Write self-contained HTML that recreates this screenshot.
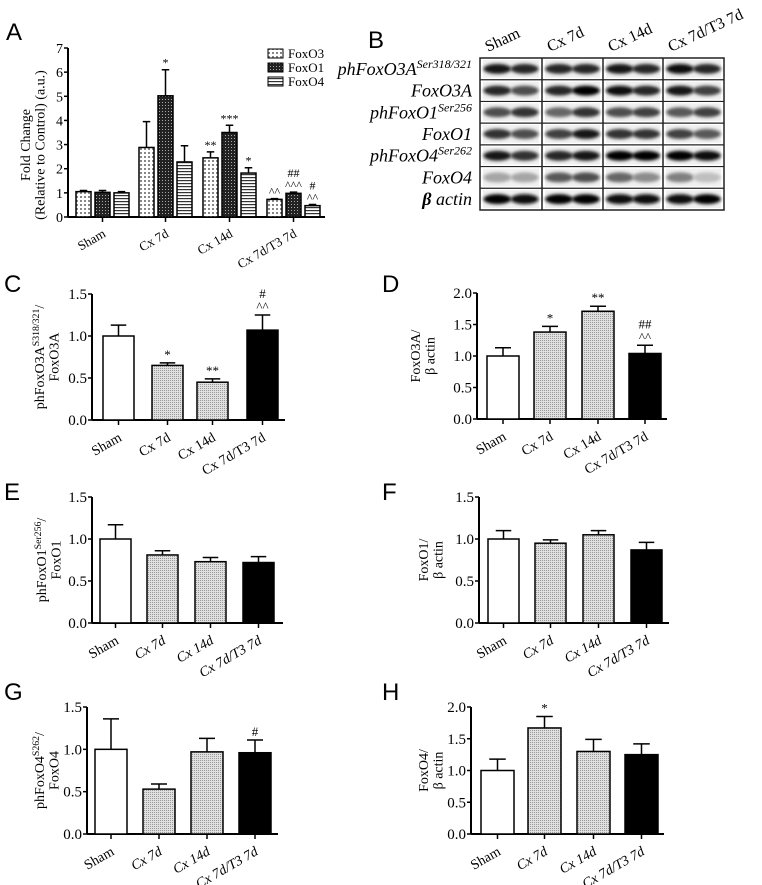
<!DOCTYPE html>
<html><head><meta charset="utf-8">
<style>
body{margin:0;background:#fff;}
svg{display:block;font-family:"Liberation Serif",serif;}
.pl{font-family:"Liberation Sans",sans-serif;font-size:24px;}
</style></head>
<body>
<svg id="fig" width="762" height="885" viewBox="0 0 762 885" xmlns="http://www.w3.org/2000/svg">
<defs>
<pattern id="pDot" width="4" height="4" patternUnits="userSpaceOnUse"><rect width="4" height="4" fill="#fff"/><rect x="0" y="0" width="2" height="2" fill="#888"/></pattern>
<pattern id="pDark" width="3" height="3" patternUnits="userSpaceOnUse"><rect width="3" height="3" fill="#222"/><rect x="0" y="0" width="1" height="1" fill="#aaa"/></pattern>
<pattern id="pStripe" width="4" height="3" patternUnits="userSpaceOnUse"><rect width="4" height="3" fill="#fff"/><rect y="0" width="4" height="1.2" fill="#333"/></pattern>
<pattern id="pGray" width="2" height="2" patternUnits="userSpaceOnUse"><rect width="2" height="2" fill="#e0e0e0"/><rect width="1" height="1" fill="#999"/></pattern>
<filter id="blur" x="-20%" y="-50%" width="140%" height="200%"><feGaussianBlur stdDeviation="1.6"/></filter>
</defs>
<g id="root"></g>
</svg>
<script>
// ---------- Panel A data ----------
const aCategories = ["Sham","Cx 7d","Cx 14d","Cx 7d/T3 7d"];
const aSeriesNames = ["FoxO3","FoxO1","FoxO4"];
const aFoxO3 = [1.05, 2.88, 2.45, 0.73];
const aFoxO3Err = [0.05, 1.07, 0.25, 0.03];
const aFoxO1 = [1.02, 5.02, 3.5, 0.98];
const aFoxO1Err = [0.08, 1.08, 0.3, 0.05];
const aFoxO4 = [1.0, 2.28, 1.82, 0.47];
const aFoxO4Err = [0.05, 0.67, 0.22, 0.05];
const aTicks = [0,1,2,3,4,5,6,7];
const aSigFoxO3 = ["","","**","^^"];
const aSigFoxO1 = ["","*","***","##\n^^^"];
const aSigFoxO4 = ["","","*","#\n^^"];
// ---------- Panels C-H data ----------
const groups = ["Sham","Cx 7d","Cx 14d","Cx 7d/T3 7d"];
const cVals = [1.0, 0.65, 0.45, 1.07];
const cErr = [0.13, 0.03, 0.04, 0.18];
const cSig = ["","*","**","#\n^^"];
const dVals = [1.0, 1.38, 1.71, 1.04];
const dErr = [0.13, 0.09, 0.08, 0.13];
const dSig = ["","*","**","##\n^^"];
const eVals = [1.0, 0.81, 0.73, 0.72];
const eErr = [0.17, 0.05, 0.05, 0.07];
const fVals = [1.0, 0.95, 1.05, 0.87];
const fErr = [0.10, 0.04, 0.05, 0.09];
const gVals = [1.0, 0.53, 0.97, 0.96];
const gErr = [0.36, 0.06, 0.16, 0.15];
const gSig = ["","","","#"];
const hVals = [1.0, 1.67, 1.30, 1.25];
const hErr = [0.18, 0.18, 0.19, 0.17];
const hSig = ["","*","",""];
const ticks15 = [0.0,0.5,1.0,1.5];
const ticks20 = [0.0,0.5,1.0,1.5,2.0];
// ---------- Blot data ----------
const blotLanes = ["Sham","Cx 7d","Cx 14d","Cx 7d/T3 7d"];
const blotRows = ["phFoxO3A|Ser318/321","FoxO3A|","phFoxO1|Ser256","FoxO1|","phFoxO4|Ser262","FoxO4|","β actin|"];
const blotIntensity = [
 [0.9,0.85,0.85,0.85,0.9,0.85,0.95,0.85],
 [0.85,0.7,0.85,0.98,0.95,0.85,0.9,0.75],
 [0.7,0.8,0.6,0.8,0.7,0.75,0.65,0.75],
 [0.8,0.7,0.75,0.9,0.8,0.8,0.75,0.65],
 [0.9,0.8,0.85,0.9,0.98,0.98,0.98,0.95],
 [0.35,0.35,0.65,0.7,0.6,0.45,0.5,0.25],
 [0.98,0.95,0.98,0.98,0.95,0.95,0.95,0.98]];

const NS="http://www.w3.org/2000/svg";
const root=document.getElementById('root');
function el(tag,attrs,parent){const e=document.createElementNS(NS,tag);for(const k in attrs)e.setAttribute(k,attrs[k]);(parent||root).appendChild(e);return e;}
function txt(x,y,s,size,anchor,parent,extra){const t=el('text',Object.assign({x:x,y:y,'font-size':size,'text-anchor':anchor||'start'},extra||{}),parent);t.textContent=s;return t;}
function multiText(x,yBottom,s,size,g){const lines=s.split("\n");for(let i=lines.length-1,k=0;i>=0;i--,k++){const t=txt(x,yBottom-k*size*1.0,lines[i],size,'middle',g);}}

function axes(g,cfg){
  const yS=v=>cfg.y0-(v/cfg.max)*(cfg.y0-cfg.yTop);
  el('line',{x1:cfg.x0,y1:cfg.yTop,x2:cfg.x0,y2:cfg.y0+0.5,stroke:'#000','stroke-width':2},g);
  el('line',{x1:cfg.x0,y1:cfg.y0,x2:cfg.xEnd,y2:cfg.y0,stroke:'#000','stroke-width':2},g);
  cfg.ticks.forEach(v=>{
    el('line',{x1:cfg.x0-4,y1:yS(v),x2:cfg.x0,y2:yS(v),stroke:'#000','stroke-width':1.5},g);
    const t=txt(cfg.x0-5,yS(v)+5,cfg.fmt(v),cfg.tickSize||14,'end',g);
    
  });
  return yS;
}
function bar(g,x,w,v,err,fill,yS,name){
  const r=el('rect',{x:x,y:yS(v),width:w,height:yS(0)-yS(v),fill:fill,stroke:'#000','stroke-width':1.5},g);
  
  
  const top=yS(v+err),cx=x+w/2;
  const e=el('path',{d:`M${cx},${yS(v)}V${top}M${cx-w/4},${top}H${cx+w/4}`,stroke:'#000','stroke-width':1.5,fill:'none'},g);
  
  
  return top;
}
function xlabel(g,x,y,s,size,italic){
  const t=txt(x,y,s,size,'end',g,{transform:`rotate(-30 ${x} ${y})`});
  if(italic)t.setAttribute('font-style','italic');
  
  
}
function ylabel(g,cx,cy,lines,size){
  const t=el('text',{transform:`translate(${cx},${cy}) rotate(-90)`,'text-anchor':'middle','font-size':size},g);
  
  
  lines.forEach((ln,i)=>{
    const ts=el('tspan',{x:0,dy:i===0?0:size*1.05},t);
    ln.forEach(part=>{const sp=el('tspan',part.sup?{'font-size':size*0.7,dy:-size*0.35}:(part.after?{dy:size*0.35}:{}),ts);sp.textContent=part.s;});
  });
}
function panelLetter(x,y,s){const t=txt(x,y,s,24,'start',root,{'class':'pl'});}

// ---------- Panel A ----------
(function(){
  const g=el('g',{});
  panelLetter(6,40,'A');
  const yS=axes(g,{x0:68,y0:217,yTop:48,max:7,xEnd:325,ticks:aTicks,fmt:v=>String(v),tickSize:14});
  const groupX=[76,139,203,267], bw=15, step=19;
  const series=[aFoxO3,aFoxO1,aFoxO4], errs=[aFoxO3Err,aFoxO1Err,aFoxO4Err], sigs=[aSigFoxO3,aSigFoxO1,aSigFoxO4], fills=['url(#pDot)','url(#pDark)','url(#pStripe)'];
  aCategories.forEach((c,i)=>{
    series.forEach((s,k)=>{
      const x=groupX[i]+k*step;
      const top=bar(g,x,bw,s[i],errs[k][i],fills[k],yS,'bar-'+aSeriesNames[k].toLowerCase()+'-'+i);
      const sig=sigs[k][i];
      if(sig) multiText(x+bw/2,top-3,sig,12,g);
    });
    const cx=groupX[i]+step+bw/2;
    el('line',{x1:cx,y1:217,x2:cx,y2:222,stroke:'#000','stroke-width':1.5},g);
    xlabel(g,cx+4,236,c,13);
  });
  ylabel(g,30,145,[[{s:'Fold Change'}],[{s:'(Relative to Control) (a.u.)'}]],14);
  aSeriesNames.forEach((n,k)=>{
    const y=49+k*14;
    const r=el('rect',{x:268,y:y,width:15,height:9,fill:fills[k],stroke:'#000','stroke-width':1},g);
    
    const t=txt(288,y+9,n,13,'start',g);
  });
})();

// ---------- Panel B (blots) ----------
(function(){
  const g=el('g',{});
  panelLetter(368,48,'B');
  const bx=480,bxe=724,by=58,bye=210,rh=(bye-by)/7;
  const cols=[480,542,603,663,724];
  el('rect',{x:bx,y:by,width:bxe-bx,height:bye-by,fill:'#fff',stroke:'#222','stroke-width':1.5},g);
  blotRows.forEach((r,ri)=>{
    const y=by+ri*rh;
    if(ri>0) el('line',{x1:bx,y1:y,x2:bxe,y2:y,stroke:'#222','stroke-width':1.2},g);
    for(let c=0;c<4;c++){
      el('rect',{x:cols[c]+3,y:y+2,width:cols[c+1]-cols[c]-6,height:rh-4,fill:'#f0f0f0'},g);
      for(let l=0;l<2;l++){
        const inten=blotIntensity[ri][c*2+l];
        const cx=cols[c]+(cols[c+1]-cols[c])*(l===0?0.28:0.72);
        const gray=Math.round(255*(1-inten));
        const e=el('ellipse',{cx:cx,cy:y+rh/2,rx:14,ry:5,fill:`rgb(${gray},${gray},${gray})`,filter:'url(#blur)'},g);
        
      }
    }
    const [name,sup]=r.split('|');
    const t=el('text',{x:472,y:y+rh/2+6,'text-anchor':'end','font-size':18,'font-style':'italic'},g);
    
    if(name==='β actin'){const b=el('tspan',{'font-weight':'bold'},t);b.textContent='β';const a=el('tspan',{},t);a.textContent=' actin';}
    else{const a=el('tspan',{},t);a.textContent=name;if(sup){const s=el('tspan',{'font-size':12,dy:-7},t);s.textContent=sup;}}
  });
  for(let c=1;c<4;c++) el('line',{x1:cols[c],y1:by,x2:cols[c],y2:bye,stroke:'#222','stroke-width':1.5},g);
  blotLanes.forEach((n,i)=>{
    const x=cols[i]+8,y=52;
    const t=txt(x,y,n,16,'start',g,{transform:`rotate(-25 ${x} ${y})`});
    
  });
})();

// ---------- Panels C-H ----------
function small(cfg){
  const g=el('g',{});
  panelLetter(cfg.lx,cfg.ly,cfg.letter);
  const yS=axes(g,{x0:cfg.x0,y0:cfg.y0,yTop:cfg.yTop,max:cfg.max,xEnd:cfg.xEnd,ticks:cfg.ticks,fmt:v=>v.toFixed(1),tickSize:15});
  const fills=['#fff','url(#pGray)','url(#pGray)','#000'];
  groups.forEach((n,i)=>{
    const x=cfg.bx[i];
    const top=bar(g,x,cfg.bw,cfg.vals[i],cfg.err[i],fills[i],yS,'bar-'+i);
    if(cfg.sig&&cfg.sig[i]) multiText(x+cfg.bw/2,top-4,cfg.sig[i],13,g);
    const cx=x+cfg.bw/2;
    el('line',{x1:cx,y1:cfg.y0,x2:cx,y2:cfg.y0+5,stroke:'#000','stroke-width':1.5},g);
    xlabel(g,cx+4,cfg.y0+20,n,14,cfg.italic&&i>0);
  });
  ylabel(g,cfg.ylx,(cfg.y0+cfg.yTop)/2,cfg.ylines,14);
}
small({name:'panel-c-chart',letter:'C',lx:4,ly:292,x0:92,y0:420,yTop:294,max:1.5,xEnd:285,ticks:ticks15,bw:31,bx:[103,152,197,247],vals:cVals,err:cErr,sig:cSig,ylx:44,
  ylines:[[{s:'phFoxO3A'},{s:'S318/321',sup:true},{s:'/',after:true}],[{s:'FoxO3A'}]]});
small({name:'panel-d-chart',letter:'D',lx:382,ly:292,x0:477,y0:419,yTop:293,max:2.0,xEnd:667,ticks:ticks20,bw:32,bx:[487,534,582,629],vals:dVals,err:dErr,sig:dSig,ylx:420,
  ylines:[[{s:'FoxO3A/'}],[{s:'β actin'}]]});
small({name:'panel-e-chart',letter:'E',lx:4,ly:500,x0:92,y0:623,yTop:497,max:1.5,xEnd:283,ticks:ticks15,bw:31,bx:[100,147,195,243],vals:eVals,err:eErr,italic:true,ylx:46,
  ylines:[[{s:'phFoxO1'},{s:'Ser256',sup:true},{s:'/',after:true}],[{s:'FoxO1'}]]});
small({name:'panel-f-chart',letter:'F',lx:382,ly:500,x0:479,y0:623,yTop:497,max:1.5,xEnd:669,ticks:ticks15,bw:31,bx:[488,535,583,631],vals:fVals,err:fErr,italic:true,ylx:428,
  ylines:[[{s:'FoxO1/'}],[{s:'β actin'}]]});
small({name:'panel-g-chart',letter:'G',lx:4,ly:700,x0:87,y0:834,yTop:707,max:1.5,xEnd:278,ticks:ticks15,bw:32,bx:[95,143,191,239],vals:gVals,err:gErr,sig:gSig,italic:true,ylx:44,
  ylines:[[{s:'phFoxO4'},{s:'S262',sup:true},{s:'/',after:true}],[{s:'FoxO4'}]]});
small({name:'panel-h-chart',letter:'H',lx:382,ly:700,x0:471,y0:834,yTop:707,max:2.0,xEnd:664,ticks:ticks20,bw:33,bx:[481,528,577,625],vals:hVals,err:hErr,sig:hSig,italic:true,ylx:428,
  ylines:[[{s:'FoxO4/'}],[{s:'β actin'}]]});
</script>
</body></html>
